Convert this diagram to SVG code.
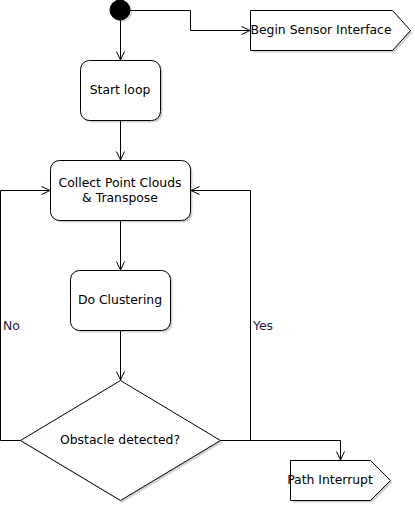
<svg xmlns="http://www.w3.org/2000/svg" width="415" height="505" viewBox="0 0 415 505">
<style>
.shape{fill:#fff;stroke:#000;stroke-width:1}
.shadow{fill:#000;opacity:0.18}
.lbl{font-family:"DejaVu Sans",sans-serif;font-size:12.4px;fill:#000;text-anchor:middle}
.edge{fill:none;stroke:#000;stroke-width:1}
.elbl{font-family:"DejaVu Sans",sans-serif;font-size:12.4px;fill:#221a44}
</style>
<defs>
<marker id="arr" viewBox="0 0 10 10" refX="9.5" refY="5" markerWidth="10" markerHeight="10" markerUnits="userSpaceOnUse" orient="auto">
<path d="M1,1 L9.5,5 L1,9" fill="none" stroke="#000" stroke-width="1"/>
</marker>
</defs>
<rect width="415" height="505" fill="#fff"/>
<g id="start">
<circle cx="122" cy="12" r="10" class="shadow"/>
<circle cx="120" cy="10" r="10" fill="#000" stroke="#000"/>
</g>
<g id="begin">
<polygon points="252.5,12.5 394.5,12.5 412.5,32.5 394.5,52.5 252.5,52.5" class="shadow"/>
<polygon points="250.5,10.5 392.5,10.5 410.5,30.5 392.5,50.5 250.5,50.5" class="shape"/>
<text x="321" y="34" class="lbl">Begin Sensor Interface</text>
</g>
<g id="startloop">
<rect x="82.5" y="62.5" width="80" height="60" rx="9" class="shadow"/>
<rect x="80.5" y="60.5" width="80" height="60" rx="9" class="shape"/>
<text x="120" y="94" class="lbl">Start loop</text>
</g>
<g id="collect">
<rect x="52.5" y="162.5" width="140" height="60" rx="9" class="shadow"/>
<rect x="50.5" y="160.5" width="140" height="60" rx="9" class="shape"/>
<text x="120" y="187" class="lbl">Collect Point Clouds</text>
<text x="120" y="202" class="lbl">&amp; Transpose</text>
</g>
<g id="cluster">
<rect x="72.5" y="272.5" width="100" height="60" rx="9" class="shadow"/>
<rect x="70.5" y="270.5" width="100" height="60" rx="9" class="shape"/>
<text x="120" y="304" class="lbl">Do Clustering</text>
</g>
<g id="decision">
<polygon points="122.5,382.5 222.5,442.5 122.5,502.5 22.5,442.5" class="shadow"/>
<polygon points="120.5,380.5 220.5,440.5 120.5,500.5 20.5,440.5" class="shape"/>
<text x="120" y="444" class="lbl">Obstacle detected?</text>
</g>
<g id="interrupt">
<polygon points="292.5,462.5 372.5,462.5 392.5,482.5 372.5,502.5 292.5,502.5" class="shadow"/>
<polygon points="290.5,460.5 370.5,460.5 390.5,480.5 370.5,500.5 290.5,500.5" class="shape"/>
<text x="330" y="484" class="lbl">Path Interrupt</text>
</g>
<g id="connectors">
<path class="edge" d="M130,10.5 H190.5 V30.5 H250" marker-end="url(#arr)"/>
<path class="edge" d="M120.5,20 V60" marker-end="url(#arr)"/>
<path class="edge" d="M120.5,121 V160" marker-end="url(#arr)"/>
<path class="edge" d="M120.5,221 V270" marker-end="url(#arr)"/>
<path class="edge" d="M120.5,331 V380" marker-end="url(#arr)"/>
<path class="edge" d="M20.5,440.5 H0.5 V190.5 H50" marker-end="url(#arr)"/>
<text x="3" y="330" class="elbl">No</text>
<path class="edge" d="M220.5,440.5 H250.5 V190.5 H191" marker-end="url(#arr)"/>
<text x="253" y="330" class="elbl">Yes</text>
<path class="edge" d="M250.5,440.5 H340.5 V460" marker-end="url(#arr)"/>
</g>
</svg>
